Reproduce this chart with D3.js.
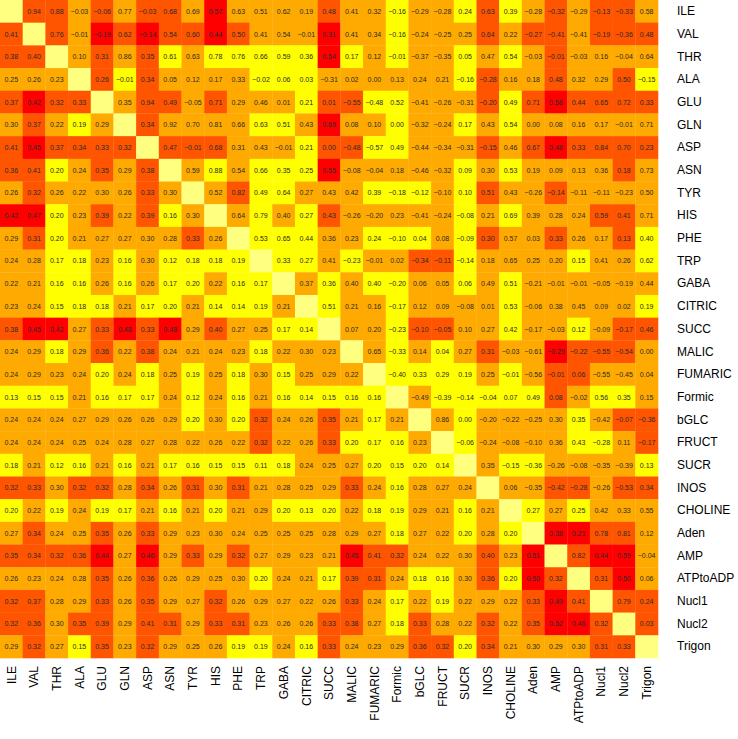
<!DOCTYPE html>
<html>
<head>
<meta charset="utf-8">
<script src="https://cdn.jsdelivr.net/npm/d3@7"></script>
<style>
  html, body { margin: 0; padding: 0; background: #ffffff; }
  svg { display: block; }
  text { font-family: "Liberation Sans", Arial, Helvetica, sans-serif; }
</style>
</head>
<body>
<svg id="chart" width="738" height="739"></svg>
<script>
// Variable names (row / column order)
const variables = ["ILE","VAL","THR","ALA","GLU","GLN","ASP","ASN","TYR","HIS","PHE","TRP","GABA","CITRIC","SUCC","MALIC","FUMARIC","Formic","bGLC","FRUCT","SUCR","INOS","CHOLINE","Aden","AMP","ATPtoADP","Nucl1","Nucl2","Trigon"];

// One array per row: printed value of each cell (null on the diagonal).
const row_ILE      = [null,0.94,0.88,-0.03,-0.06,0.77,-0.03,0.68,0.69,0.57,0.63,0.51,0.62,0.19,0.48,0.41,0.32,-0.16,-0.29,-0.28,0.24,0.63,0.39,-0.28,-0.32,-0.29,-0.13,-0.33,0.58];
const row_VAL      = [0.41,null,0.76,-0.01,-0.19,0.62,-0.14,0.54,0.60,0.44,0.50,0.41,0.54,-0.01,0.31,0.41,0.34,-0.16,-0.24,-0.25,0.25,0.64,0.22,-0.27,-0.41,-0.41,-0.19,-0.36,0.48];
const row_THR      = [0.38,0.40,null,0.10,0.31,0.86,0.35,0.61,0.63,0.78,0.76,0.66,0.59,0.36,0.54,0.17,0.12,-0.01,-0.37,-0.35,0.05,0.47,0.54,-0.03,-0.01,-0.03,0.16,-0.04,0.64];
const row_ALA      = [0.25,0.26,0.23,null,0.26,-0.01,0.34,0.05,0.12,0.17,0.33,-0.02,0.06,0.03,-0.31,0.02,0.00,0.13,0.24,0.21,-0.16,-0.28,0.16,0.18,0.48,0.32,0.29,0.50,-0.15];
const row_GLU      = [0.37,0.42,0.32,0.33,null,0.35,0.94,0.49,-0.05,0.71,0.29,0.46,0.01,0.21,0.01,-0.55,-0.48,0.52,-0.41,-0.26,-0.31,-0.20,0.49,0.71,0.58,0.44,0.65,0.72,0.33];
const row_GLN      = [0.30,0.37,0.22,0.19,0.29,null,0.34,0.92,0.70,0.81,0.66,0.63,0.51,0.43,0.69,0.08,0.10,0.00,-0.32,-0.24,0.17,0.43,0.54,0.00,0.08,0.16,0.17,-0.01,0.71];
const row_ASP      = [0.41,0.45,0.37,0.34,0.33,0.32,null,0.47,-0.01,0.68,0.31,0.43,-0.01,0.21,-0,-0.48,-0.57,0.49,-0.44,-0.34,-0.31,-0.15,0.46,0.67,0.48,0.33,0.84,0.70,0.23];
const row_ASN      = [0.36,0.41,0.20,0.24,0.35,0.29,0.38,null,0.59,0.88,0.54,0.66,0.35,0.25,0.55,-0.08,-0.04,0.18,-0.46,-0.32,0.09,0.30,0.53,0.19,0.09,0.13,0.36,0.18,0.73];
const row_TYR      = [0.26,0.32,0.26,0.22,0.30,0.26,0.33,0.30,null,0.52,0.82,0.49,0.64,0.27,0.43,0.42,0.39,-0.18,-0.12,-0.10,0.10,0.51,0.43,-0.26,-0.14,-0.11,-0.11,-0.23,0.50];
const row_HIS      = [0.42,0.47,0.20,0.23,0.39,0.22,0.39,0.16,0.30,null,0.64,0.79,0.40,0.27,0.43,-0.26,-0.20,0.23,-0.41,-0.24,-0.08,0.21,0.69,0.39,0.28,0.24,0.59,0.41,0.71];
const row_PHE      = [0.29,0.31,0.20,0.21,0.27,0.27,0.30,0.28,0.33,0.26,null,0.53,0.65,0.44,0.36,0.23,0.24,-0.10,0.04,0.08,-0.09,0.30,0.57,0.03,0.33,0.26,0.17,0.13,0.40];
const row_TRP      = [0.24,0.28,0.17,0.18,0.23,0.16,0.30,0.12,0.18,0.18,0.19,null,0.33,0.27,0.41,-0.23,-0.01,0.02,-0.34,-0.11,-0.14,0.18,0.65,0.25,0.20,0.15,0.41,0.26,0.62];
const row_GABA     = [0.22,0.21,0.16,0.16,0.26,0.16,0.26,0.17,0.20,0.22,0.16,0.17,null,0.37,0.36,0.40,0.40,-0.20,0.06,0.05,0.06,0.49,0.51,-0.21,-0.01,-0.01,-0.05,-0.19,0.44];
const row_CITRIC   = [0.23,0.24,0.15,0.18,0.18,0.21,0.17,0.20,0.21,0.14,0.14,0.19,0.21,null,0.51,0.21,0.16,-0.17,0.12,0.09,-0.08,0.01,0.53,-0.06,0.38,0.45,0.09,0.02,0.19];
const row_SUCC     = [0.38,0.45,0.42,0.27,0.33,0.48,0.33,0.48,0.29,0.40,0.27,0.25,0.17,0.14,null,0.07,0.20,-0.23,-0.10,-0.05,0.10,0.27,0.42,-0.17,-0.03,0.12,-0.09,-0.17,0.46];
const row_MALIC    = [0.24,0.29,0.18,0.29,0.36,0.22,0.38,0.24,0.21,0.24,0.23,0.18,0.22,0.30,0.23,null,0.65,-0.33,0.14,0.04,0.27,0.31,-0.03,-0.61,-0.29,-0.22,-0.55,-0.54,0.00];
const row_FUMARIC  = [0.24,0.29,0.23,0.24,0.20,0.24,0.18,0.25,0.19,0.25,0.18,0.30,0.15,0.25,0.29,0.22,null,-0.40,0.33,0.29,0.19,0.25,-0.01,-0.56,-0.01,0.06,-0.55,-0.45,0.04];
const row_Formic   = [0.13,0.15,0.15,0.21,0.16,0.17,0.17,0.24,0.12,0.24,0.16,0.21,0.16,0.14,0.15,0.16,0.16,null,-0.49,-0.39,-0.14,-0.04,0.07,0.49,0.08,-0.02,0.56,0.35,0.15];
const row_bGLC     = [0.24,0.24,0.24,0.27,0.29,0.26,0.26,0.29,0.20,0.30,0.20,0.32,0.24,0.26,0.35,0.21,0.17,0.21,null,0.86,-0,-0.20,-0.22,-0.25,0.30,0.35,-0.42,-0.07,-0.36];
const row_FRUCT    = [0.24,0.24,0.24,0.25,0.24,0.28,0.27,0.28,0.22,0.26,0.22,0.32,0.22,0.26,0.33,0.20,0.17,0.16,0.23,null,-0.06,-0.24,-0.08,-0.10,0.36,0.43,-0.28,0.11,-0.17];
const row_SUCR     = [0.18,0.21,0.12,0.16,0.21,0.16,0.21,0.17,0.16,0.15,0.15,0.11,0.18,0.24,0.25,0.27,0.20,0.15,0.20,0.14,null,0.35,-0.15,-0.36,-0.26,-0.08,-0.35,-0.39,0.13];
const row_INOS     = [0.32,0.33,0.30,0.32,0.32,0.28,0.34,0.26,0.31,0.30,0.31,0.21,0.28,0.25,0.29,0.33,0.24,0.16,0.28,0.27,0.24,null,0.06,-0.35,-0.42,-0.28,-0.26,-0.53,0.34];
const row_CHOLINE  = [0.20,0.22,0.19,0.24,0.19,0.17,0.21,0.16,0.21,0.20,0.21,0.29,0.20,0.13,0.20,0.22,0.18,0.19,0.29,0.21,0.16,0.21,null,0.27,0.27,0.25,0.42,0.33,0.55];
const row_Aden     = [0.27,0.34,0.24,0.25,0.35,0.26,0.33,0.29,0.23,0.30,0.24,0.25,0.25,0.25,0.28,0.29,0.27,0.18,0.27,0.22,0.20,0.28,0.20,null,0.38,0.21,0.78,0.81,0.12];
const row_AMP      = [0.35,0.34,0.32,0.36,0.44,0.27,0.46,0.29,0.33,0.29,0.32,0.27,0.29,0.23,0.21,0.45,0.41,0.32,0.24,0.22,0.30,0.40,0.23,0.51,null,0.82,0.44,0.59,-0.04];
const row_ATPtoADP = [0.26,0.23,0.24,0.28,0.35,0.26,0.36,0.26,0.29,0.25,0.30,0.20,0.24,0.21,0.17,0.39,0.31,0.24,0.18,0.16,0.30,0.36,0.20,0.50,0.32,null,0.31,0.50,0.06];
const row_Nucl1    = [0.32,0.37,0.28,0.29,0.33,0.26,0.35,0.29,0.27,0.32,0.26,0.29,0.27,0.22,0.26,0.33,0.24,0.17,0.22,0.19,0.22,0.29,0.22,0.33,0.49,0.41,null,0.79,0.24];
const row_Nucl2    = [0.32,0.36,0.30,0.35,0.39,0.29,0.41,0.31,0.29,0.33,0.31,0.23,0.26,0.26,0.33,0.38,0.27,0.18,0.33,0.28,0.22,0.32,0.22,0.35,0.52,0.46,0.32,null,0.03];
const row_Trigon   = [0.29,0.32,0.27,0.15,0.35,0.23,0.32,0.29,0.25,0.26,0.19,0.19,0.24,0.16,0.33,0.24,0.23,0.29,0.36,0.32,0.20,0.34,0.21,0.30,0.29,0.30,0.31,0.33,null];

const rowsData = [row_ILE,row_VAL,row_THR,row_ALA,row_GLU,row_GLN,row_ASP,row_ASN,row_TYR,row_HIS,row_PHE,row_TRP,row_GABA,row_CITRIC,row_SUCC,row_MALIC,row_FUMARIC,row_Formic,row_bGLC,row_FRUCT,row_SUCR,row_INOS,row_CHOLINE,row_Aden,row_AMP,row_ATPtoADP,row_Nucl1,row_Nucl2,row_Trigon];

// Colour classes (heat palette) driven by the lower-triangle value of each pair
const colorBreaks = [0.105, 0.205, 0.305, 0.415];
const heatColors = ["#FFFF80", "#FFFF00", "#FFAA00", "#FF5500", "#FF0000"];

const svg = d3.select("#chart");
const gridSize = 658;

const x = d3.scaleBand().domain(variables).range([0, gridSize]);
const y = d3.scaleBand().domain(variables).range([0, gridSize]);
const color = d3.scaleThreshold().domain(colorBreaks).range(heatColors);
const fmt = d3.format(".2f");

const cells = [];
variables.forEach((rv, i) => {
  variables.forEach((cv, j) => {
    const lowerVal = i === j ? 0 : (i > j ? rowsData[i][j] : rowsData[j][i]);
    cells.push({ row: rv, col: cv, i, j, label: rowsData[i][j], colorVal: lowerVal });
  });
});

const g = svg.append("g");

g.selectAll("rect.cell")
  .data(cells)
  .join("rect")
  .attr("class", "cell")
  .attr("x", d => x(d.col))
  .attr("y", d => y(d.row))
  .attr("width", x.bandwidth() + 0.3)
  .attr("height", y.bandwidth() + 0.3)
  .attr("fill", d => color(d.colorVal));

g.selectAll("text.val")
  .data(cells.filter(d => d.label !== null))
  .join("text")
  .attr("class", "val")
  .attr("x", d => x(d.col) + x.bandwidth() / 2)
  .attr("y", d => y(d.row) + y.bandwidth() / 2)
  .attr("dy", "0.36em")
  .attr("text-anchor", "middle")
  .attr("font-size", "7px")
  .attr("fill", "#2a2a2a")
  .text(d => fmt(d.label));

// Row labels (right)
const axisR = svg.append("g")
  .attr("transform", `translate(${gridSize},0)`)
  .call(d3.axisRight(y).tickSize(0).tickPadding(19));
axisR.select(".domain").remove();
axisR.selectAll("text")
  .attr("font-size", "12px")
  .attr("fill", "#000")
  .style("font-family", "'Liberation Sans', Arial, Helvetica, sans-serif");

// Column labels (bottom, rotated)
const axisB = svg.append("g")
  .attr("transform", `translate(0,${gridSize})`)
  .call(d3.axisBottom(x).tickSize(0).tickPadding(0));
axisB.select(".domain").remove();
axisB.selectAll("text")
  .attr("font-size", "12px")
  .attr("fill", "#000")
  .style("font-family", "'Liberation Sans', Arial, Helvetica, sans-serif")
  .attr("transform", "rotate(-90)")
  .attr("text-anchor", "end")
  .attr("x", -8)
  .attr("y", 0)
  .attr("dy", "0.35em");
</script>
</body>
</html>
